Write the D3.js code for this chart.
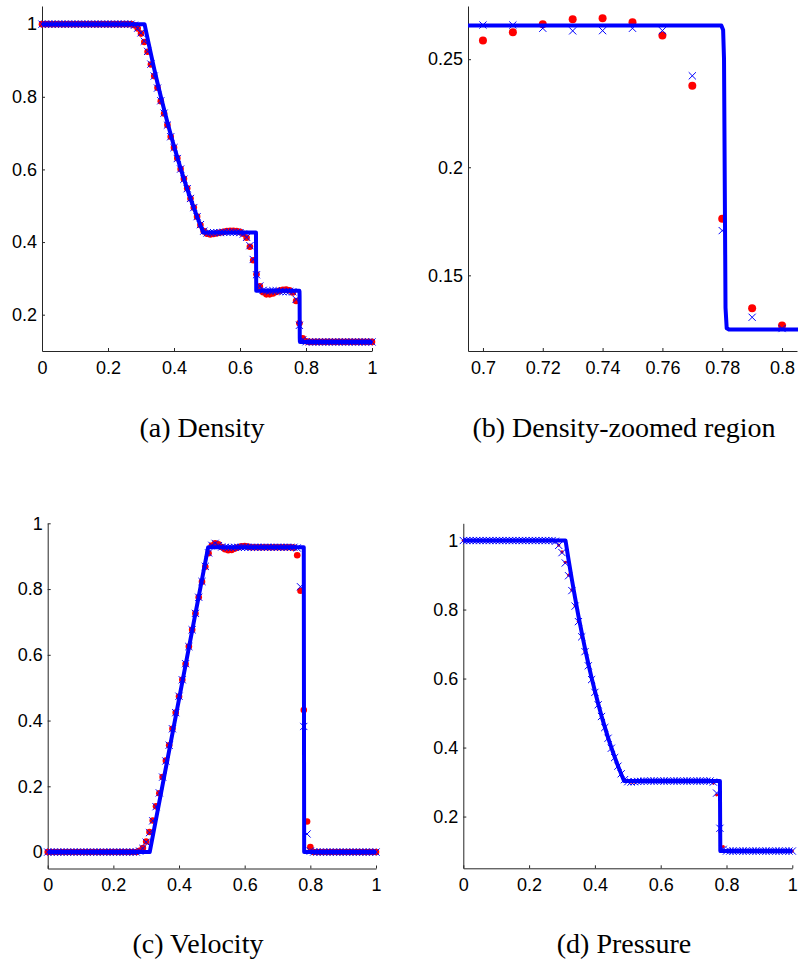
<!DOCTYPE html>
<html>
<head>
<meta charset="utf-8">
<script src="https://cdn.jsdelivr.net/npm/d3@7"></script>
<style>
  html, body { margin: 0; padding: 0; background: #fff; }
  svg { display: block; }
  .tick text { font-family: "Liberation Sans", Arial, Helvetica, sans-serif; font-size: 18px; fill: #000; }
  .caption { font-family: "Liberation Serif", "Times New Roman", serif; font-size: 28px; fill: #000; }
</style>
</head>
<body>
<script>
// ---------------- data ----------------
// grid positions 0, 0.01, ..., 1 (101 points)
const gridX = d3.range(0, 101).map(i => i / 100);

// Density: scheme 1 (red dots) and scheme 2 (blue crosses)
const densityRed = [
  1,1,1,1,1,1,1,1,1,1, 1,1,1,1,1,1,1,1,1,1, 1,1,1,1,1,1,1,1,
  0.997,0.988,0.974,0.951,0.924,0.889,0.857,0.825,0.788,0.754,0.722,0.690,0.660,0.631,0.601,0.574,0.548,0.520,0.495,0.470,0.447,0.430,
  0.423,0.421,0.422,0.424,0.426,0.428,0.430,0.431,0.431,0.430,0.428,0.423,0.412,0.387,0.350,0.311,0.278,0.262,0.256,0.256,
  0.2586,0.2625,0.2662,0.2685,0.2689,0.2671,0.2609,0.2377,0.1762,0.1348,0.1268,
  0.125,0.125,0.125,0.125,0.125,0.125,0.125,0.125,0.125,0.125, 0.125,0.125,0.125,0.125,0.125,0.125,0.125,0.125,0.125,0.125
];
const densityBlue = [
  1,1,1,1,1,1,1,1,1,1, 1,1,1,1,1,1,1,1,1,1, 1,1,1,1,1,1,1,1,
  0.997,0.989,0.976,0.953,0.925,0.890,0.857,0.824,0.789,0.755,0.722,0.690,0.660,0.630,0.601,0.573,0.547,0.520,0.495,0.470,0.448,0.430,
  0.425,0.425,0.426,0.426,0.426,0.427,0.427,0.427,0.427,0.427,0.426,0.422,0.413,0.390,0.352,0.310,0.279,0.267,0.265,0.265,
  0.2658,0.2658,0.2643,0.2631,0.2632,0.2643,0.2632,0.2423,0.1707,0.1306,0.1254,
  0.125,0.125,0.125,0.125,0.125,0.125,0.125,0.125,0.125,0.125, 0.125,0.125,0.125,0.125,0.125,0.125,0.125,0.125,0.125,0.125
];
// Exact density (solid line)
const densityExactX = [0,0.3107,0.32,0.33,0.34,0.35,0.36,0.37,0.38,0.39,0.40,0.41,0.42,0.43,0.44,0.45,0.46,0.47,0.48,0.4888,0.6484,0.6492,0.7797,0.7803,0.7806,0.7811,0.7815,0.7822,1];
const densityExactY = [1,1,0.960,0.918,0.877,0.838,0.801,0.765,0.730,0.696,0.664,0.633,0.603,0.574,0.546,0.520,0.494,0.470,0.446,0.426,0.426,0.2656,0.2656,0.2635,0.250,0.135,0.1255,0.125,0.125];

// Velocity
const velocityRed = [
  0,0,0,0,0,0,0,0,0,0, 0,0,0,0,0,0,0,0,0,0, 0,0,0,0,0,0,0,0,
  0.004,0.012,0.032,0.061,0.096,0.139,0.179,0.228,0.278,0.325,0.375,0.424,0.473,0.524,0.572,0.625,0.676,0.726,0.775,0.822,0.868,0.909,
  0.932,0.939,0.936,0.928,0.921,0.918,0.919,0.923,0.927,0.930,0.931,0.929,0.927,0.927,0.927,0.927,0.927,0.927,0.927,0.927,
  0.927,0.927,0.927,0.927,0.927,0.926,0.903,0.795,0.432,0.093,0.015,
  0,0,0,0,0,0,0,0,0,0, 0,0,0,0,0,0,0,0,0,0
];
const velocityBlue = [
  0,0,0,0,0,0,0,0,0,0, 0,0,0,0,0,0,0,0,0,0, 0,0,0,0,0,0,0,0,
  0.003,0.011,0.030,0.059,0.095,0.138,0.180,0.228,0.277,0.325,0.375,0.424,0.474,0.524,0.573,0.625,0.676,0.726,0.775,0.823,0.869,0.910,
  0.933,0.939,0.932,0.928,0.927,0.926,0.926,0.927,0.927,0.927,0.927,0.927,0.927,0.927,0.927,0.927,0.927,0.927,0.927,0.927,
  0.927,0.927,0.927,0.927,0.927,0.927,0.925,0.807,0.382,0.055,0.003,
  0,0,0,0,0,0,0,0,0,0, 0,0,0,0,0,0,0,0,0,0
];
const velocityExactX = [0,0.3107,0.4888,0.7800,0.7812,1];
const velocityExactY = [0,0,0.9274,0.9274,0,0];

// Pressure
const pressureRed = [
  1,1,1,1,1,1,1,1,1,1, 1,1,1,1,1,1,1,1,1,1, 1,1,1,1,1,1,1,1,
  0.998,0.987,0.967,0.937,0.900,0.857,0.811,0.766,0.721,0.678,0.637,0.597,0.560,0.524,0.490,0.458,0.427,0.398,0.371,0.346,0.324,0.308,
  0.302,0.300,0.300,0.301,0.302,0.303,0.303,0.303,0.303,0.303,0.303,0.303,0.303,0.303,0.303,0.303,0.303,0.303,0.303,0.303,
  0.303,0.303,0.303,0.303,0.303,0.303,0.297,0.263,0.155,0.113,0.101,
  0.1,0.1,0.1,0.1,0.1,0.1,0.1,0.1,0.1,0.1, 0.1,0.1,0.1,0.1,0.1,0.1,0.1,0.1,0.1,0.1
];
const pressureBlue = [
  1,1,1,1,1,1,1,1,1,1, 1,1,1,1,1,1,1,1,1,1, 1,1,1,1,1,1,1,1,
  0.998,0.986,0.965,0.935,0.898,0.855,0.810,0.765,0.721,0.678,0.637,0.597,0.560,0.524,0.490,0.458,0.427,0.398,0.371,0.346,0.324,0.307,
  0.301,0.300,0.301,0.302,0.302,0.303,0.303,0.303,0.303,0.303,0.303,0.303,0.303,0.303,0.303,0.303,0.303,0.303,0.303,0.303,
  0.303,0.303,0.303,0.303,0.303,0.303,0.300,0.268,0.166,0.105,0.100,
  0.1,0.1,0.1,0.1,0.1,0.1,0.1,0.1,0.1,0.1, 0.1,0.1,0.1,0.1,0.1,0.1,0.1,0.1,0.1,0.1
];
const pressureExactX = [0,0.3107,0.32,0.33,0.34,0.35,0.36,0.37,0.38,0.39,0.40,0.41,0.42,0.43,0.44,0.45,0.46,0.47,0.48,0.4888,0.7800,0.7812,1];
const pressureExactY = [1,1,0.944,0.887,0.833,0.781,0.733,0.687,0.643,0.602,0.564,0.527,0.492,0.460,0.429,0.400,0.373,0.347,0.323,0.303,0.303,0.1,0.1];

// tick values
const fullXTicks = [0, 0.2, 0.4, 0.6, 0.8, 1];
const densityYTicks = [0.2, 0.4, 0.6, 0.8, 1];
const zoomXTicks = [0.7, 0.72, 0.74, 0.76, 0.78, 0.8];
const zoomYTicks = [0.15, 0.2, 0.25];
const velocityYTicks = [0, 0.2, 0.4, 0.6, 0.8, 1];
const pressureYTicks = [0.2, 0.4, 0.6, 0.8, 1];

const captions = ["(a) Density", "(b) Density-zoomed region", "(c) Velocity", "(d) Pressure"];

// ---------------- drawing ----------------
const W = 798, H = 970;
const svg = d3.select("body").append("svg").attr("width", W).attr("height", H);
svg.append("rect").attr("width", W).attr("height", H).attr("fill", "#fff");

const fmt = d => String(+d.toFixed(3));

const panels = [
  { id: "a", xr: [42, 372], yr: [351, 6], xd: [0, 1], yd: [0.1, 1.05],
    red: densityRed, blue: densityBlue, ex: densityExactX, ey: densityExactY,
    xt: fullXTicks, yt: densityYTicks, dotR: 3.3, cap: captions[0], capX: 202, capY: 437 },
  { id: "b", xr: [468, 797], yr: [351, 6], xd: [0.695, 0.805], yd: [0.115, 0.2746],
    red: densityRed, blue: densityBlue, ex: densityExactX, ey: densityExactY,
    xt: zoomXTicks, yt: zoomYTicks, dotR: 4, cap: captions[1], capX: 624, capY: 437 },
  { id: "c", xr: [47.7, 376], yr: [868.5, 523.3], xd: [0, 1], yd: [-0.05, 1],
    red: velocityRed, blue: velocityBlue, ex: velocityExactX, ey: velocityExactY,
    xt: fullXTicks, yt: velocityYTicks, dotR: 3.3, cap: captions[2], capX: 198, capY: 953 },
  { id: "d", xr: [463.3, 792.3], yr: [868.3, 523.3], xd: [0, 1], yd: [0.05, 1.05],
    red: pressureRed, blue: pressureBlue, ex: pressureExactX, ey: pressureExactY,
    xt: fullXTicks, yt: pressureYTicks, dotR: 1.6, cap: captions[3], capX: 624, capY: 953 }
];

panels.forEach(p => {
  const x = d3.scaleLinear().domain(p.xd).range(p.xr);
  const y = d3.scaleLinear().domain(p.yd).range(p.yr);
  const g = svg.append("g");

  const clipId = "clip-" + p.id;
  const cr = svg.append("clipPath").attr("id", clipId).append("rect");
  if (p.id === "b") {
    cr.attr("x", p.xr[0]).attr("y", p.yr[1])
      .attr("width", p.xr[1] - p.xr[0] + 2).attr("height", p.yr[0] - p.yr[1]);
  } else {
    cr.attr("x", p.xr[0] - 6).attr("y", p.yr[1] - 6)
      .attr("width", p.xr[1] - p.xr[0] + 12).attr("height", p.yr[0] - p.yr[1] + 12);
  }

  // axes
  const xAxis = d3.axisBottom(x).tickValues(p.xt).tickFormat(fmt).tickSizeInner(-3).tickSizeOuter(0).tickPadding(10);
  const yAxis = d3.axisLeft(y).tickValues(p.yt).tickFormat(fmt).tickSizeInner(-3).tickSizeOuter(0).tickPadding(5);
  const gx = g.append("g").attr("transform", `translate(0,${p.yr[0]})`).call(xAxis);
  const gy = g.append("g").attr("transform", `translate(${p.xr[0]},0)`).call(yAxis);
  [gx, gy].forEach(a => {
    a.select(".domain").attr("stroke", "#262626").attr("stroke-width", 1);
    a.selectAll(".tick line").attr("stroke", "#262626");
    a.selectAll(".tick text").attr("fill", "#000");
  });

  const plot = g.append("g").attr("clip-path", `url(#${clipId})`);

  // red dots
  plot.append("g").selectAll("circle").data(gridX.map((xv, i) => [xv, p.red[i]])).join("circle")
    .attr("cx", d => x(d[0])).attr("cy", d => y(d[1])).attr("r", p.dotR).attr("fill", "#ff0000");

  // blue crosses
  const s = 3.6;
  plot.append("g").selectAll("path").data(gridX.map((xv, i) => [xv, p.blue[i]])).join("path")
    .attr("transform", d => `translate(${x(d[0])},${y(d[1])})`)
    .attr("d", `M${-s},${-s}L${s},${s}M${-s},${s}L${s},${-s}`)
    .attr("stroke", "#0000ff").attr("stroke-width", 1).attr("fill", "none");

  // exact solution
  const line = d3.line().x(d => x(d[0])).y(d => y(d[1]));
  plot.append("path").datum(p.ex.map((xv, i) => [xv, p.ey[i]]))
    .attr("d", line).attr("fill", "none").attr("stroke", "#0000ff")
    .attr("stroke-width", 4).attr("stroke-linejoin", "round").attr("stroke-linecap", "butt");

  // caption
  svg.append("text").attr("class", "caption")
    .attr("x", p.capX).attr("y", p.capY)
    .attr("text-anchor", "middle").text(p.cap);
});
</script>
</body>
</html>
